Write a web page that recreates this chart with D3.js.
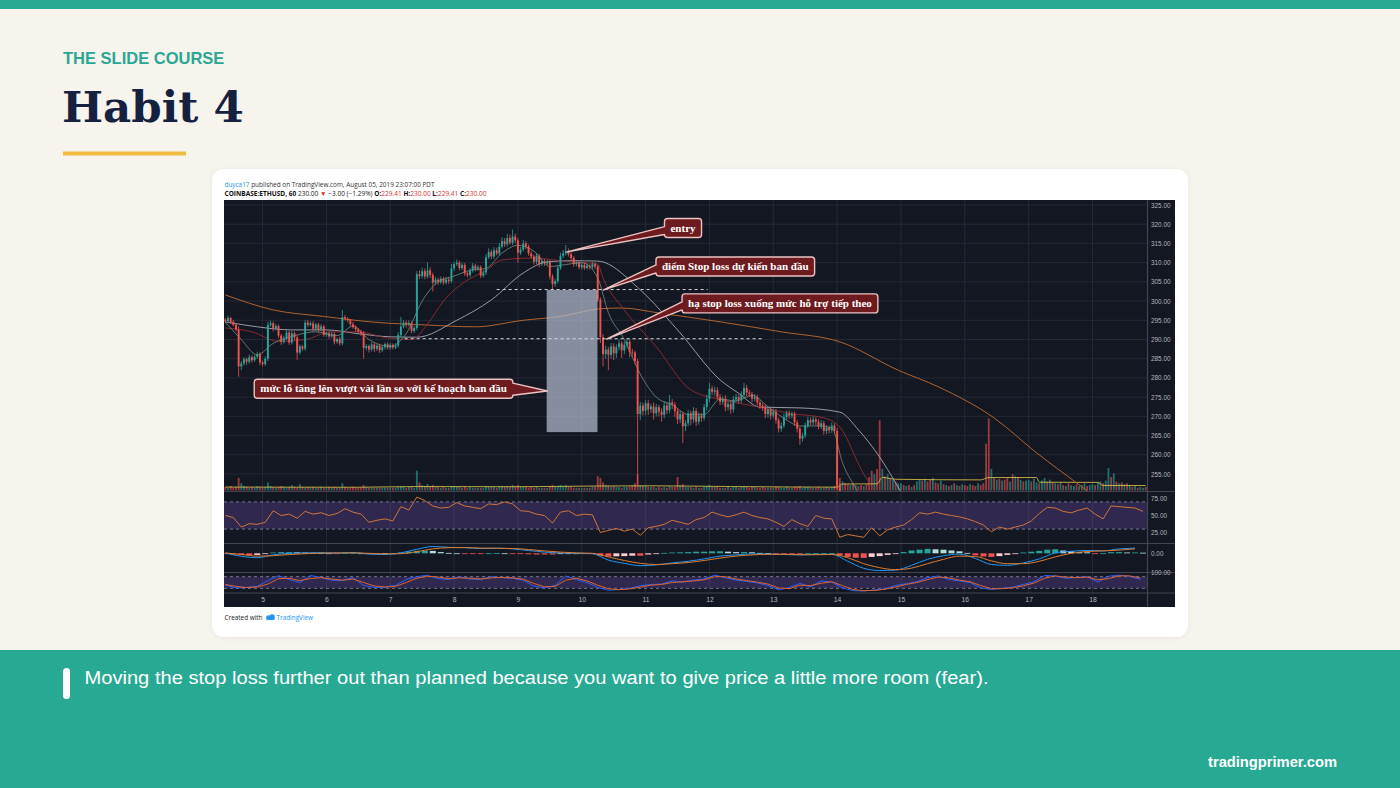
<!DOCTYPE html>
<html><head><meta charset="utf-8">
<script src="https://cdn.jsdelivr.net/npm/d3@7/dist/d3.min.js"></script>
<style>html,body{margin:0;padding:0;background:#f7f4ee;}svg{display:block;}</style>
</head><body>
<svg id="c" width="1400" height="788"></svg>
<script>
// ================= DATA =================
const firstHour = 10;          // first candle: Aug 4, 10:00 (hours counted from Aug 4 00:00)
const firstOpen = 295.2;
const dayLabels = ["5","6","7","8","9","10","11","12","13","14","15","16","17","18"];
const dayHours  = [24,48,72,96,120,144,168,192,216,240,264,288,312,336];
const priceTicks = [255,260,265,270,275,280,285,290,295,300,305,310,315,320,325];

// hourly closes (ETHUSD, 1h)
const closes = [
 294.8,295.6,294.6,293.8,292.6,283.0,283.8,284.9,284.2,285.4,284.6,285.5,286.2,284.0,
 283.6,285.0,293.8,294.2,292.8,293.5,291.0,289.4,290.2,291.8,289.2,291.6,290.5,286.6,288.2,287.6,294.4,293.8,294.2,292.8,293.9,292.5,293.4,291.2,
 291.6,290.8,291.4,289.4,290.1,289.0,295.8,295.4,295.0,294.0,293.2,292.6,292.0,291.6,287.8,288.3,287.4,288.7,287.6,288.4,287.2,288.0,288.8,287.9,
 288.6,287.9,288.4,291.2,293.4,294.4,293.8,294.3,292.2,293.0,307.0,306.5,307.8,306.4,308.0,306.8,304.8,305.6,304.9,305.8,304.8,305.6,305.2,308.5,
 309.6,310.0,308.6,309.4,307.2,306.8,308.0,309.2,308.4,308.8,306.6,307.4,311.4,312.8,311.6,313.2,312.4,314.2,315.6,314.8,316.4,315.2,316.8,315.8,
 312.6,313.4,315.0,314.2,312.4,311.6,310.2,311.8,309.6,310.4,309.8,310.2,306.4,304.4,305.2,308.6,311.8,312.4,313.0,312.2,311.2,309.6,310.0,308.8,
 309.4,308.6,309.2,308.8,309.6,309.0,300.4,290.6,286.2,287.4,286.0,288.2,286.4,288.0,289.0,287.2,288.6,289.4,286.8,286.6,284.4,270.6,272.8,271.4,
 273.4,271.8,272.6,270.8,272.4,271.2,270.4,272.8,271.6,273.6,273.0,271.4,269.2,270.6,267.4,268.2,270.8,269.2,271.4,268.6,270.2,269.6,272.4,274.6,
 277.2,276.4,276.8,275.0,273.8,274.6,272.4,273.2,271.8,274.4,275.0,274.2,275.6,277.4,276.2,275.8,274.6,275.0,273.6,272.8,272.2,270.6,271.8,270.2,
 271.2,269.0,266.8,267.6,269.8,270.8,270.2,270.6,268.4,266.8,264.2,265.0,267.6,269.0,268.4,269.2,268.6,267.4,268.2,266.2,267.0,266.4,267.6,266.2,
 252.0,246.0,248.0,246.5,244.0,245.5,243.0,244.5,242.0,240.0,241.5,239.0,236.0,232.0,234.0,230.0,224.0,227.0,225.0,228.0,226.5,229.0,227.5,229.0,
 231.0,229.5,232.0,230.0,233.0,231.5,234.0,236.0,233.5,235.0,232.0,230.5,232.5,231.0,229.0,230.5,228.0,229.5,227.0,228.5,226.0,227.5,225.0,226.0,
 224.0,222.5,223.5,221.0,219.0,220.5,218.0,216.0,208.0,202.0,205.0,203.5,206.0,204.0,207.0,205.5,203.0,204.5,201.0,203.0,202.0,204.5,203.0,205.0,
 207.0,205.5,208.0,210.0,208.5,211.0,213.0,211.5,214.0,212.0,213.5,211.0,212.5,210.0,211.5,209.0,210.5,212.0,211.0,213.0,212.0,214.0,213.0,215.0,
 216.0,214.5,217.0,219.0,218.0,221.0,226.0,224.0,228.0,226.5,229.0,227.5,229.5,228.0,230.0,229.0,230.5,229.5,230.5,233.0,230.0
];
// upper / lower wick length beyond the candle body
const wickUp = [
 0.4,0.6,0.3,0.5,0.4,0.8,0.6,0.5,0.4,0.7,0.5,0.4,0.6,0.5,
 0.5,0.6,0.8,0.7,0.5,0.6,0.4,0.5,0.8,0.6,0.5,0.7,0.5,0.6,0.5,0.4,0.6,0.7,0.5,0.6,0.4,0.5,0.6,0.4,
 0.4,0.5,0.6,0.5,0.4,0.6,1.9,0.6,0.5,0.4,0.6,0.5,0.4,0.5,0.6,0.5,0.4,0.6,0.5,0.4,0.5,0.6,0.4,0.5,
 0.5,0.4,0.6,0.7,2.5,0.6,0.5,0.7,0.4,0.6,0.8,1.0,0.9,0.7,2.0,0.8,0.6,0.7,0.5,0.6,0.5,0.7,0.6,1.2,
 0.6,0.8,0.5,0.6,0.5,0.4,0.6,0.7,0.5,0.6,0.5,0.6,0.8,0.9,0.6,0.8,0.7,0.9,1.0,0.8,1.1,0.9,1.8,0.8,
 0.6,0.7,0.9,0.6,0.5,0.6,0.5,0.7,0.5,0.6,0.5,0.6,0.5,0.6,0.5,0.7,0.8,0.9,1.6,0.7,0.6,0.5,0.6,0.5,
 0.5,0.6,0.5,0.4,0.6,0.5,0.4,0.6,0.8,1.0,0.7,0.9,0.8,0.7,1.0,0.6,0.8,0.7,0.6,0.8,0.5,0.6,1.0,0.8,
 0.8,0.9,0.7,1.0,0.8,0.6,0.9,1.2,0.8,2.0,0.9,0.7,0.8,0.9,0.6,0.8,0.9,0.7,1.0,0.8,0.9,0.7,0.8,1.0,
 1.5,0.8,0.9,0.7,0.8,0.6,0.9,0.7,0.8,0.9,0.8,0.7,0.9,1.3,0.8,0.7,0.6,0.8,0.7,0.6,0.7,0.8,0.6,0.7,
 0.8,0.7,0.6,0.8,0.9,0.7,0.8,0.6,0.7,0.6,0.5,0.7,0.8,0.9,0.7,0.8,0.6,0.7,0.8,0.6,0.7,0.6,0.8,0.6,
 0.8,0.6
];
const wickDown = [
 0.5,0.4,0.6,0.4,0.5,2.7,1.0,0.6,0.8,0.5,0.6,0.4,0.5,0.7,
 0.6,0.5,0.6,0.5,0.7,0.4,0.6,0.8,0.5,0.4,0.6,0.5,0.7,1.9,0.5,0.6,0.5,0.6,0.4,0.7,0.5,0.6,0.4,0.5,
 0.5,0.6,0.4,0.7,0.5,0.6,0.5,0.4,0.6,0.5,0.4,0.6,0.5,0.7,2.8,0.6,0.8,0.5,0.9,0.6,0.7,0.5,0.6,0.5,
 0.6,0.5,0.4,0.5,0.6,0.5,0.7,0.5,0.6,0.5,0.6,0.8,0.6,0.7,0.5,0.8,2.3,0.6,0.7,0.5,0.6,0.5,0.7,0.5,
 0.7,0.5,0.6,0.5,0.7,0.6,0.5,0.6,0.7,0.5,0.6,0.5,0.6,0.5,0.7,0.6,0.5,0.6,0.5,0.7,0.6,0.5,0.6,0.7,
 2.6,0.6,0.5,0.7,0.6,0.5,0.7,0.6,0.8,0.5,0.6,0.5,0.8,1.5,0.7,0.6,0.5,0.6,0.5,0.6,0.5,0.7,0.6,0.5,
 0.6,0.5,0.4,0.6,0.5,0.7,0.6,1.5,3.2,1.2,4.0,1.0,1.8,1.2,0.8,2.0,1.0,0.9,1.5,1.0,0.8,18.1,1.6,1.2,
 1.0,1.4,0.9,1.6,0.8,1.2,1.8,0.9,1.0,0.8,1.1,1.5,1.2,0.9,4.4,1.2,0.8,1.5,0.9,1.1,0.8,1.0,0.7,0.9,
 0.9,0.8,1.0,0.7,0.9,0.8,1.1,0.9,1.2,0.8,0.7,0.9,0.8,0.7,0.9,0.8,1.0,0.7,0.8,0.9,0.8,1.1,0.9,1.0,
 0.7,0.9,1.0,0.8,0.7,0.6,0.8,0.7,0.9,1.0,1.6,0.8,0.7,0.6,0.8,0.7,0.9,0.8,0.7,1.0,0.8,0.9,0.7,0.9,
 1.0,1.5
];
// hourly volume (thousand ETH)
const volumes = [
 4,3,5,3,4,14,8,5,4,3,4,3,5,4,
 3,4,9,5,4,3,4,5,4,3,4,6,4,3,7,4,3,4,3,4,3,3,4,3,
 3,4,3,4,3,3,8,4,3,3,4,3,3,3,6,4,3,3,3,3,3,3,3,3,
 3,3,3,4,5,4,3,4,4,3,22,9,6,5,7,5,6,4,4,3,4,3,3,5,
 5,4,4,3,4,3,4,3,3,3,3,3,5,4,4,4,3,5,5,4,5,4,6,5,
 6,4,4,4,3,4,3,4,3,3,3,3,4,6,4,5,6,5,6,4,4,3,3,3,
 3,3,3,3,4,4,16,14,9,6,5,4,5,4,4,3,4,4,4,6,8,18,6,5,
 5,4,4,4,3,4,3,4,3,5,4,4,15,6,7,4,4,4,3,4,3,3,4,5,
 6,4,4,4,3,3,3,4,3,4,4,3,4,5,4,3,4,4,3,3,4,3,3,3,
 3,4,4,3,3,4,3,3,4,4,5,3,4,4,3,3,3,4,3,3,4,3,4,5,
 25,14,10,8,7,6,8,6,5,6,5,7,15,22,18,24,78,24,16,18,14,12,10,8,
 8,6,5,6,4,6,10,12,11,13,10,12,14,9,8,11,7,6,5,6,8,6,5,7,
 6,5,7,6,5,8,6,8,52,80,24,14,12,13,11,12,14,10,18,16,15,12,10,11,
 12,10,13,9,8,11,14,10,12,9,8,7,9,6,5,8,6,5,7,5,6,8,5,6,
 7,6,9,10,8,11,25,15,19,10,8,9,7,8,5,4,5,3,4,3,4
];
// moving averages: [hour, value]
const volumeMA = [[10,3.8],[60,3.6],[82,4.4],[120,4.2],[150,5],[170,5.2],[200,4.4],[240,3.7],[242,7.2],[255,7.4],[257,14.5],[262,12.5],[294,11.8],[297,14.4],[315,14.4],[316,9.2],[338,9],[340,5.6],[356,5.5]];
const maFast = [[10,294.5],[16,290],[22,286],[28,289],[36,291],[44,292],[52,291],[58,293.5],[64,290],[72,288.2],[78,291.5],[84,300],[90,305],[96,306.5],[102,308],[108,308.5],[114,312.5],[120,314.5],[126,313],[132,309],[138,309.5],[144,310],[150,306],[154,297],[160,290],[166,281],[172,275],[178,273],[184,270.5],[190,270.5],[196,274.5],[202,274],[208,275.5],[214,272.5],[220,269.5],[226,267.5],[232,267.5],[238,267],[242,258],[248,250],[256,238]];
const ma20 = [[10,293],[20,292],[30,289.5],[40,290],[50,292],[60,292],[70,290.5],[80,290],[86,294],[92,300],[100,305],[108,308],[114,310.7],[126,311.2],[138,310.3],[150,309.6],[152,306],[160,297.7],[172,288.1],[185,276.9],[197,274.3],[210,272.5],[222,270.8],[235,269.6],[241,267.2],[250,255],[262,244]];
const ma50 = [[10,294.6],[22,293.3],[35,292.5],[48,292.5],[60,291.5],[72,290.7],[82,290.6],[97,295],[110,300.3],[122,307.3],[131,310.2],[140,310.5],[150,310.4],[166,302.9],[181,291.7],[196,279.5],[203,276],[211,272.4],[226,272.2],[241,271.1],[248,266.5],[256,259.4],[262,252.7],[270,243]];
const ma200 = [[10,301.6],[28,297.7],[47,296],[66,294.5],[85,293.8],[104,293.3],[122,295],[136,296],[151,298],[159,298.2],[173,296.9],[196,294.6],[219,292],[241,289.4],[263,282],[278,277.7],[299,269.6],[315,260.5],[330,252.7],[343,246],[356,240]];
// RSI every 3 hours from firstHour
const rsi = [50,47,33,38,37,40,57,50,52,46, 56,52,54,50,53,60,55,52,40,43, 45,42,63,58,77,72,64,61,62,69, 64,62,60,67,66,70,67,57,56,52,
 50,39,55,57,50,52,51,25,28,31, 27,30,21,32,34,37,43,40,37,44, 47,55,51,48,51,55,50,47,45,40, 34,44,38,34,50,46,45,18,22,20,
 18,32,20,29,33,36,44,54,52,55, 52,50,48,45,41,36,26,33,30,33, 36,42,53,62,61,56,54,58,61,52, 45,64,63,62,61,56];
// MACD / signal every 6 hours, histogram every 3 hours
const macdLine = [0.1,-1.5,-2.2,-0.8,0.0,0.2,0.3,0.1,0.4,-0.4, -0.6,0.2,2.0,3.4,3.0,2.8,2.4,2.6,2.2,1.4, 0.6,0.2,0.0,-0.2,-3.4,-5.0,-6.2,-5.8,-4.8,-4.0,
 -2.8,-1.4,-0.8,-0.3,-0.4,-0.6,-0.8,-0.6,-0.5,-4.0, -7.5,-8.6,-8.4,-6.0,-3.0,-1.2,-0.4,-2.6,-5.6,-6.0, -4.8,-2.8,0.2,1.0,1.4,1.2,2.2,2.6];
const signalLine = [0.2,-0.6,-1.4,-1.2,-0.6,-0.2,0.1,0.2,0.2,0.0, -0.3,-0.2,0.8,2.2,2.8,2.9,2.6,2.5,2.4,1.9, 1.2,0.6,0.2,0.0,-1.8,-3.6,-5.0,-5.6,-5.2,-4.6,
 -3.6,-2.4,-1.4,-0.8,-0.5,-0.5,-0.7,-0.7,-0.6,-2.2, -5.2,-7.2,-8.2,-7.4,-5.2,-3.0,-1.4,-1.6,-3.8,-5.2, -5.2,-4.0,-1.8,0.0,0.9,1.2,1.6,2.2];
const macdHist = [-0.1,-0.6,-0.9,-0.9,-0.8,-0.2,0.4,0.6,0.6,0.5, 0.4,0.3,0.2,0.0,-0.1,0.2,0.2,0.0,-0.4,-0.4, -0.3,0.0,0.4,0.8,1.2,1.3,1.2,0.6,0.2,0.0,
 -0.1,-0.2,-0.2,0.0,0.1,0.0,-0.2,-0.4,-0.5,-0.6, -0.6,-0.6,-0.4,-0.3,-0.2,-0.2,-0.2,-1.2,-1.6,-1.5, -1.4,-1.2,-1.2,-0.6,-0.2,0.2,0.4,0.5,0.6,0.8,
 0.8,1.0,1.0,0.8,0.6,0.6,0.5,0.2,0.1,-0.1, -0.1,-0.1,-0.1,0.0,0.1,0.1,0.1,-1.0,-1.8,-2.2, -2.3,-1.8,-1.4,-0.8,-0.2,0.6,1.4,1.8,2.2,2.0,
 1.8,1.4,1.0,0.2,-1.0,-1.6,-1.8,-1.4,-0.8,-0.2, 0.4,0.8,1.2,1.8,2.0,1.4,1.0,0.6,0.5,-0.3, 0.0,0.6,0.6,0.4,0.4,0.3];
// Stochastic RSI every 4 hours
const stochK = [37,22,25,30,60,85,66,50,86,76, 62,60,75,35,25,26,35,66,80,87, 70,66,80,68,66,80,75,72,62,32, 22,35,84,65,50,25,10,14,20,33,
 40,42,58,52,62,68,88,75,62,56, 48,35,12,24,45,28,58,52,22,8, 6,12,18,35,44,54,74,84,66,58, 50,22,14,20,26,40,54,86,84,72, 76,80,52,82,88,82,66];
const stochD = [40,30,24,27,42,70,72,60,70,75, 68,62,68,50,32,27,30,50,72,82, 78,70,74,72,68,74,76,74,67,45, 28,30,62,72,58,36,18,13,17,26,
 36,40,50,54,58,64,80,80,68,60, 52,42,22,18,36,34,46,54,34,14, 8,9,15,27,40,50,65,78,74,62, 54,34,18,18,23,33,47,72,84,78, 75,78,64,70,84,84,74];
// drawings (anchored in hour / price units)
const stopLevels = [{price:303.0, from:112, to:191.3},{price:290.2, from:77.4, to:211.6}];
const riskBox = {from:130.8, to:149.9, top:302.9, bottom:265.9};
const callouts = [
 {text:"entry", hour:138.5, price:312.8, boxHour:175.1, boxPrice:319.0},
 {text:"điểm Stop loss dự kiến ban đầu", hour:152.2, price:302.9, boxHour:171.9, boxPrice:309.0},
 {text:"hạ stop loss xuống mức hỗ trợ tiếp theo", hour:153.3, price:290.1, boxHour:181.7, boxPrice:299.4},
 {text:"mức lỗ tăng lên vượt vài lần so với kế hoạch ban đầu", hour:131.1, price:276.6, boxHour:118.1, boxPrice:277.2}
];

// ================= DRAW =================
const svg = d3.select("#c");
const defs = svg.append("defs");
defs.append("filter").attr("id","sh").attr("x","-5%").attr("y","-5%").attr("width","110%").attr("height","115%")
  .append("feDropShadow").attr("dx",0).attr("dy",1).attr("stdDeviation",2.5).attr("flood-color","#000").attr("flood-opacity",0.06);
function clip(id,x,y,w,h){ defs.append("clipPath").attr("id",id).append("rect").attr("x",x).attr("y",y).attr("width",w).attr("height",h); }

// slide
svg.append("rect").attr("width",1400).attr("height",788).attr("fill","#f7f4ee");
svg.append("rect").attr("width",1400).attr("height",9).attr("fill","#27a994");
svg.append("rect").attr("y",650).attr("width",1400).attr("height",138).attr("fill","#27a994");
svg.append("text").attr("x",63).attr("y",64).text("THE SLIDE COURSE")
  .attr("font-family","'Liberation Sans',Arial,sans-serif").attr("font-weight","bold").attr("font-size",16.5).attr("fill","#2aa792");
svg.append("text").attr("x",62).attr("y",122).text("Habit 4")
  .attr("font-family","'DejaVu Serif',serif").attr("font-weight","bold").attr("font-size",43.5).attr("fill","#16203f");
svg.append("rect").attr("x",63).attr("y",151.5).attr("width",123).attr("height",4).attr("fill","#f0bb40");
svg.append("rect").attr("x",63).attr("y",668).attr("width",7).attr("height",31).attr("rx",3.5).attr("fill","#fff");
svg.append("text").attr("x",84.5).attr("y",683.5).text("Moving the stop loss further out than planned because you want to give price a little more room (fear).")
  .attr("font-family","'Liberation Sans',Arial,sans-serif").attr("font-size",19.2).attr("fill","#fff")
  .attr("textLength",904).attr("lengthAdjust","spacingAndGlyphs");
svg.append("text").attr("x",1337).attr("y",767).attr("text-anchor","end").text("tradingprimer.com")
  .attr("font-family","'Liberation Sans',Arial,sans-serif").attr("font-weight","bold").attr("font-size",14.7).attr("fill","#fff");

// card
svg.append("rect").attr("x",212).attr("y",169).attr("width",976).attr("height",468).attr("rx",12).attr("fill","#fff").attr("filter","url(#sh)");

// header lines
const hf = "'Open Sans','Noto Sans',sans-serif";
const h1 = svg.append("text").attr("x",224.5).attr("y",186.5).attr("font-family",hf).attr("font-size",6.6).attr("fill","#333")
  .attr("textLength",210).attr("lengthAdjust","spacingAndGlyphs");
h1.append("tspan").attr("fill","#2196f3").text("duyca17");
h1.append("tspan").text(" published on TradingView.com, August 05, 2019 23:07:00 PDT");
const h2 = svg.append("text").attr("x",224.5).attr("y",196).attr("font-family",hf).attr("font-size",6.6).attr("fill","#222")
  .attr("textLength",262).attr("lengthAdjust","spacingAndGlyphs");
const red = "#d32f2f";
[["COINBASE:ETHUSD, 60","#111","bold"],[" 230.00 ","#222"],["▼",red],[" −3.00 (−1.29%) ","#222"],["O:","#111","bold"],["229.41",red],
 [" H:","#111","bold"],["230.00",red],[" L:","#111","bold"],["229.41",red],[" C:","#111","bold"],["230.00",red]]
 .forEach(s=>{ const t=h2.append("tspan").attr("fill",s[1]).text(s[0]); if(s[2]) t.attr("font-weight",s[2]); });

// footer
const ft = svg.append("text").attr("x",224.5).attr("y",619.5).attr("font-family",hf).attr("font-size",6.4).attr("fill","#222");
ft.append("tspan").text("Created with ");
const logoX = 266;
svg.append("circle").attr("cx",logoX+2.5).attr("cy",617.5).attr("r",2.3).attr("fill","#2196f3");
svg.append("circle").attr("cx",logoX+6).attr("cy",617).attr("r",2.8).attr("fill","#2196f3");
svg.append("rect").attr("x",logoX+0.5).attr("y",617.5).attr("width",8).attr("height",2.4).attr("fill","#2196f3");
svg.append("text").attr("x",logoX+10.5).attr("y",619.5).attr("font-family",hf).attr("font-size",6.4).attr("fill","#2196f3").text("TradingView");

// chart frame
const CL=224, CR=1175, AX=1147, CT=200, CB=607;
const PB=491, RT=492, RB=543, MT=544, MB=572, ST=573, SB=592.5;
svg.append("rect").attr("x",CL).attr("y",CT).attr("width",CR-CL).attr("height",CB-CT).attr("fill","#131722");
clip("cp",CL,CT,AX-CL,PB-CT); clip("cr",CL,RT,AX-CL,RB-RT); clip("cm",CL,MT,AX-CL,MB-MT); clip("cs",CL,ST,AX-CL,SB-ST);

const xs = d3.scaleLinear().domain([firstHour-0.5, firstHour+closes.length-0.5]).range([CL, AX]);
const ys = d3.scaleLinear().domain([255,325]).range([474,205]);
const yVol = d3.scaleLinear().domain([0,100]).range([490.5,400.5]);
const yRsi = d3.scaleLinear().domain([25,75]).range([532.5,498.5]);
const yMacd = d3.scaleLinear().domain([-8.5,0]).range([570.3,553.3]);
const yStoch = d3.scaleLinear().domain([0,100]).range([592.2,572.8]);

const grid = svg.append("g").attr("stroke","#252935").attr("stroke-width",1);
priceTicks.forEach(p=>grid.append("line").attr("x1",CL).attr("x2",AX).attr("y1",ys(p)).attr("y2",ys(p)));
dayHours.forEach(h=>grid.append("line").attr("x1",xs(h)).attr("x2",xs(h)).attr("y1",CT).attr("y2",SB));

// RSI & Stoch bands
function band(y1,y2,clipId){
  const g = svg.append("g").attr("clip-path",`url(#${clipId})`);
  g.append("rect").attr("x",CL).attr("width",AX-CL).attr("y",y1).attr("height",y2-y1).attr("fill","rgba(126,87,194,0.28)");
  [y1,y2].forEach(y=>g.append("line").attr("x1",CL).attr("x2",AX).attr("y1",y).attr("y2",y).attr("stroke","#8a8da0").attr("stroke-width",0.8).attr("stroke-dasharray","3,3"));
  return g;
}
const rsiG = band(yRsi(70), yRsi(30), "cr");
const stG = band(yStoch(80), yStoch(20), "cs");

const priceG = svg.append("g").attr("clip-path","url(#cp)");

// candles data
const candles = closes.map((c,i)=>{ const o = i ? closes[i-1] : firstOpen;
  return {h:firstHour+i, o, c, hi:Math.max(o,c)+(wickUp[i]||0), lo:Math.min(o,c)-(wickDown[i]||0), v:volumes[i], up:c>=o}; });
const UP="#26a69a", DN="#ef5350";

// volume
priceG.append("g").selectAll("rect").data(candles).join("rect")
  .attr("x",d=>xs(d.h)-0.9).attr("width",1.8).attr("y",d=>yVol(d.v)).attr("height",d=>yVol(0)-yVol(d.v))
  .attr("fill",d=>d.up?UP:DN).attr("opacity",0.62);
const lineP = (yScale)=>d3.line().x(d=>xs(d[0])).y(d=>yScale(d[1])).curve(d3.curveMonotoneX);
priceG.append("path").attr("d",lineP(yVol)(volumeMA)).attr("fill","none").attr("stroke","#d9c04a").attr("stroke-width",1).attr("opacity",0.85);

// moving averages
[[ma200,"#b8662f",0.95],[ma50,"#a3a8b3",0.9],[ma20,"#9a2e30",0.85],[maFast,"#7f9c8c",0.7]].forEach(m=>
  priceG.append("path").attr("d",lineP(ys)(m[0])).attr("fill","none").attr("stroke",m[1]).attr("stroke-width",1).attr("opacity",m[2]));

// candles
const cg = priceG.append("g");
cg.selectAll("line").data(candles).join("line")
  .attr("x1",d=>xs(d.h)).attr("x2",d=>xs(d.h)).attr("y1",d=>ys(d.hi)).attr("y2",d=>ys(d.lo))
  .attr("stroke",d=>d.up?UP:DN).attr("stroke-width",0.8);
cg.selectAll("rect").data(candles).join("rect")
  .attr("x",d=>xs(d.h)-0.95).attr("width",1.9)
  .attr("y",d=>ys(Math.max(d.o,d.c))).attr("height",d=>Math.max(0.8, Math.abs(ys(d.o)-ys(d.c))))
  .attr("fill",d=>d.up?UP:DN);

// drawings
const dg = svg.append("g").attr("clip-path","url(#cp)");
dg.append("rect").attr("x",xs(riskBox.from)).attr("width",xs(riskBox.to)-xs(riskBox.from))
  .attr("y",ys(riskBox.top)).attr("height",ys(riskBox.bottom)-ys(riskBox.top)).attr("fill","rgba(182,192,212,0.7)");
stopLevels.forEach(s=>dg.append("line").attr("x1",xs(s.from)).attr("x2",xs(s.to)).attr("y1",ys(s.price)).attr("y2",ys(s.price))
  .attr("stroke","#d6d8e0").attr("stroke-width",1).attr("stroke-dasharray","3,3"));

callouts.forEach(a=>{
  const g = dg.append("g");
  const t = g.append("text").attr("font-family","'Liberation Serif','Times New Roman',serif").attr("font-weight","bold")
    .attr("font-size",11).attr("fill","#fff").text(a.text);
  const tw = t.node().getComputedTextLength();
  const bw = tw+12, bh = 19, r = 3;
  const tx = xs(a.hour), ty = ys(a.price), cy = ys(a.boxPrice);
  const right = a.boxHour > a.hour;
  const L = right ? xs(a.boxHour) : xs(a.boxHour)-bw, R = L+bw, T = cy-bh/2, B = cy+bh/2;
  let p;
  if (right) {
    const base = 8;
    p = `M${L+r},${T}H${R-r}Q${R},${T} ${R},${T+r}V${B-r}Q${R},${B} ${R-r},${B}H${L+r}Q${L},${B} ${L},${B-r}L${tx},${ty}L${L},${B-r-base}V${T+r}Q${L},${T} ${L+r},${T}Z`;
  } else {
    p = `M${L+r},${T}H${R-r}Q${R},${T} ${R},${T+r}V${T+4}L${tx},${ty}L${R},${B-r}Q${R},${B} ${R-r},${B}H${L+r}Q${L},${B} ${L},${B-r}V${T+r}Q${L},${T} ${L+r},${T}Z`;
  }
  g.insert("path","text").attr("d",p).attr("fill","#6e1b1f").attr("stroke","#ebc3c3").attr("stroke-width",1.4).attr("stroke-linejoin","round");
  t.attr("x",L+bw/2).attr("y",cy+3.8).attr("text-anchor","middle");
});

// RSI line
rsiG.append("path").attr("d",d3.line().x((d,i)=>xs(firstHour+3*i)).y(d=>yRsi(d))(rsi))
  .attr("fill","none").attr("stroke","#d0763a").attr("stroke-width",1);

// MACD
const mg = svg.append("g").attr("clip-path","url(#cm)");
mg.selectAll("rect").data(macdHist).join("rect")
  .attr("x",(d,i)=>xs(firstHour+3*i)-3).attr("width",6)
  .attr("y",d=>d>=0?yMacd(d):yMacd(0)).attr("height",d=>Math.max(0.8,Math.abs(yMacd(d)-yMacd(0))))
  .attr("fill",(d,i)=>{ const p = i? macdHist[i-1] : d; return d>=0 ? (d>=p?"#26a69a":"#b2dfdb") : (d<=p?"#ef5350":"#ffcdd2"); });
mg.append("path").attr("d",d3.line().x((d,i)=>xs(firstHour+6*i)).y(d=>yMacd(d)).curve(d3.curveMonotoneX)(macdLine))
  .attr("fill","none").attr("stroke","#2196f3").attr("stroke-width",1);
mg.append("path").attr("d",d3.line().x((d,i)=>xs(firstHour+6*i)).y(d=>yMacd(d)).curve(d3.curveMonotoneX)(signalLine))
  .attr("fill","none").attr("stroke","#e07a2e").attr("stroke-width",1);

// Stoch
stG.append("path").attr("d",d3.line().x((d,i)=>xs(firstHour+4*i)).y(d=>yStoch(d))(stochK)).attr("fill","none").attr("stroke","#2962ff").attr("stroke-width",1);
stG.append("path").attr("d",d3.line().x((d,i)=>xs(firstHour+4*i)).y(d=>yStoch(d))(stochD)).attr("fill","none").attr("stroke","#e0622e").attr("stroke-width",1);

// pane separators
const sep = svg.append("g").attr("stroke","#434651").attr("stroke-width",1.2);
[491.5,543.5,572.5,593].forEach(y=>sep.append("line").attr("x1",CL).attr("x2",CR).attr("y1",y).attr("y2",y));
sep.append("line").attr("x1",AX+0.5).attr("x2",AX+0.5).attr("y1",CT).attr("y2",CB);

// axes
const axFont = "'Liberation Sans',Arial,sans-serif";
function styleAxis(g){ g.select(".domain").remove(); g.selectAll("line").remove();
  g.selectAll("text").attr("fill","#b2b5be").attr("font-family",axFont).attr("font-size",6.4); }
svg.append("g").attr("transform",`translate(${AX+2},0)`)
  .call(d3.axisRight(ys).tickValues(priceTicks).tickSize(0).tickPadding(2).tickFormat(d3.format(".2f"))).call(styleAxis);
svg.append("g").attr("transform",`translate(${AX+2},0)`)
  .call(d3.axisRight(yRsi).tickValues([75,50,25]).tickSize(0).tickPadding(2).tickFormat(d3.format(".2f"))).call(styleAxis);
svg.append("g").attr("transform",`translate(${AX+2},0)`)
  .call(d3.axisRight(yMacd).tickValues([0]).tickSize(0).tickPadding(2).tickFormat(d3.format(".2f"))).call(styleAxis);
svg.append("g").attr("transform",`translate(${AX+2},0)`)
  .call(d3.axisRight(yStoch).tickValues([100]).tickSize(0).tickPadding(2).tickFormat(d3.format(".2f"))).call(styleAxis);
svg.append("g").attr("transform",`translate(0,${SB+3})`)
  .call(d3.axisBottom(xs).tickValues(dayHours).tickSize(0).tickPadding(2).tickFormat((d,i)=>dayLabels[i])).call(styleAxis)
  .selectAll("text").attr("font-size",6.8);
</script>
</body></html>
